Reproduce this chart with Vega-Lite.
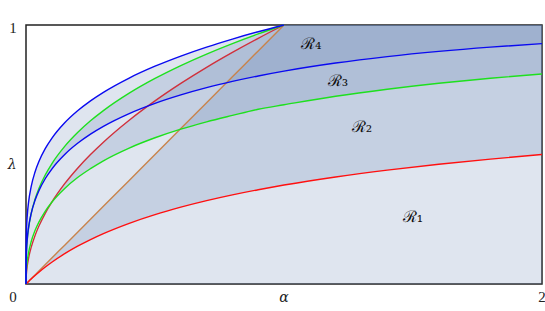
{
  "$schema": "https://vega.github.io/schema/vega-lite/v6.json",
  "width": 516,
  "height": 259,
  "autosize": "none",
  "padding": {"left": 26, "top": 25, "right": 3, "bottom": 27},
  "config": {"view": {"stroke": "#222222", "strokeWidth": 1.5}},
  "datasets": {
    "curves": [
      {"a": 0, "rl": 0, "ru": 0, "gl": 0, "gu": 0, "bl": 0, "bu": 0, "dg": 0, "rh": 0, "gh": 0, "bh": 0, "bt": 0},
      {"a": 0.0005, "rl": 0.0005, "ru": 0.0224, "gl": 0.0325, "gu": 0.0794, "bl": 0.0844, "bu": 0.1495, "dg": 0.0005, "rh": 0.0224, "gh": 0.0794, "bh": 0.1495, "bt": 0.0005},
      {"a": 0.002, "rl": 0.002, "ru": 0.0447, "gl": 0.06, "gu": 0.126, "bl": 0.1315, "bu": 0.2115, "dg": 0.002, "rh": 0.0447, "gh": 0.126, "bh": 0.2115, "bt": 0.002},
      {"a": 0.005, "rl": 0.0049, "ru": 0.0707, "gl": 0.09, "gu": 0.171, "bl": 0.1758, "bu": 0.2659, "dg": 0.005, "rh": 0.0707, "gh": 0.171, "bh": 0.2659, "bt": 0.005},
      {"a": 0.01, "rl": 0.0098, "ru": 0.1, "gl": 0.1213, "gu": 0.2154, "bl": 0.2189, "bu": 0.3162, "dg": 0.01, "rh": 0.1, "gh": 0.2154, "bh": 0.3162, "bt": 0.01},
      {"a": 0.02, "rl": 0.0192, "ru": 0.1414, "gl": 0.163, "gu": 0.2714, "bl": 0.2718, "bu": 0.3761, "dg": 0.02, "rh": 0.1414, "gh": 0.2714, "bh": 0.3761, "bt": 0.02},
      {"a": 0.035, "rl": 0.0327, "ru": 0.1871, "gl": 0.2063, "gu": 0.3271, "bl": 0.3231, "bu": 0.4325, "dg": 0.035, "rh": 0.1871, "gh": 0.3271, "bh": 0.4325, "bt": 0.035},
      {"a": 0.05, "rl": 0.0456, "ru": 0.2236, "gl": 0.239, "gu": 0.3684, "bl": 0.3603, "bu": 0.4729, "dg": 0.05, "rh": 0.2236, "gh": 0.3684, "bh": 0.4729, "bt": 0.05},
      {"a": 0.075, "rl": 0.0655, "ru": 0.2739, "gl": 0.2816, "gu": 0.4217, "bl": 0.4073, "bu": 0.5233, "dg": 0.075, "rh": 0.2739, "gh": 0.4217, "bh": 0.5233, "bt": 0.075},
      {"a": 0.1, "rl": 0.0839, "ru": 0.3162, "gl": 0.3157, "gu": 0.4642, "bl": 0.4438, "bu": 0.5623, "dg": 0.1, "rh": 0.3162, "gh": 0.4642, "bh": 0.5623, "bt": 0.1},
      {"a": 0.15, "rl": 0.117, "ru": 0.3873, "gl": 0.369, "gu": 0.5313, "bl": 0.5, "bu": 0.6223, "dg": 0.15, "rh": 0.3873, "gh": 0.5313, "bh": 0.6223, "bt": 0.15},
      {"a": 0.2, "rl": 0.1459, "ru": 0.4472, "gl": 0.411, "gu": 0.5848, "bl": 0.5432, "bu": 0.6687, "dg": 0.2, "rh": 0.4472, "gh": 0.5848, "bh": 0.6687, "bt": 0.2},
      {"a": 0.25, "rl": 0.1716, "ru": 0.5, "gl": 0.4453, "gu": 0.63, "bl": 0.5786, "bu": 0.7071, "dg": 0.25, "rh": 0.5, "gh": 0.63, "bh": 0.7071, "bt": 0.25},
      {"a": 0.3, "rl": 0.1946, "ru": 0.5477, "gl": 0.4758, "gu": 0.6694, "bl": 0.6087, "bu": 0.7401, "dg": 0.3, "rh": 0.5477, "gh": 0.6694, "bh": 0.7401, "bt": 0.3},
      {"a": 0.4, "rl": 0.2344, "ru": 0.6325, "gl": 0.525, "gu": 0.7368, "bl": 0.658, "bu": 0.7953, "dg": 0.4, "rh": 0.6325, "gh": 0.7368, "bh": 0.7953, "bt": 0.4},
      {"a": 0.5, "rl": 0.268, "ru": 0.7071, "gl": 0.5647, "gu": 0.7937, "bl": 0.6975, "bu": 0.8409, "dg": 0.5, "rh": 0.7071, "gh": 0.7937, "bh": 0.8409, "bt": 0.5},
      {"a": 0.6, "rl": 0.2967, "ru": 0.7746, "gl": 0.598, "gu": 0.8434, "bl": 0.7302, "bu": 0.8801, "dg": 0.6, "rh": 0.7746, "gh": 0.8434, "bh": 0.8801, "bt": 0.6},
      {"a": 0.7, "rl": 0.3219, "ru": 0.8367, "gl": 0.6262, "gu": 0.8879, "bl": 0.7582, "bu": 0.9147, "dg": 0.7, "rh": 0.8367, "gh": 0.8879, "bh": 0.9147, "bt": 0.7},
      {"a": 0.8, "rl": 0.3441, "ru": 0.8944, "gl": 0.651, "gu": 0.9283, "bl": 0.7822, "bu": 0.9457, "dg": 0.8, "rh": 0.8944, "gh": 0.9283, "bh": 0.9457, "bt": 0.8},
      {"a": 0.9, "rl": 0.364, "ru": 0.9487, "gl": 0.6749, "gu": 0.9655, "bl": 0.8033, "bu": 0.974, "dg": 0.9, "rh": 0.9487, "gh": 0.9655, "bh": 0.974, "bt": 0.9},
      {"a": 1.0, "rl": 0.382, "ru": 1, "gl": 0.692, "gu": 1, "bl": 0.8219, "bu": 1, "dg": 1, "rh": 1, "gh": 1, "bh": 1, "bt": 1},
      {"a": 1.2, "rl": 0.4132, "ru": null, "gl": 0.725, "gu": null, "bl": 0.8531, "bu": null, "dg": null, "rh": 1, "gh": 1, "bh": 1, "bt": 1},
      {"a": 1.4, "rl": 0.4396, "ru": null, "gl": 0.752, "gu": null, "bl": 0.878, "bu": null, "dg": null, "rh": 1, "gh": 1, "bh": 1, "bt": 1},
      {"a": 1.6, "rl": 0.4624, "ru": null, "gl": 0.775, "gu": null, "bl": 0.8982, "bu": null, "dg": null, "rh": 1, "gh": 1, "bh": 1, "bt": 1},
      {"a": 1.8, "rl": 0.4823, "ru": null, "gl": 0.7943, "gu": null, "bl": 0.9146, "bu": null, "dg": null, "rh": 1, "gh": 1, "bh": 1, "bt": 1},
      {"a": 2.0, "rl": 0.5, "ru": null, "gl": 0.811, "gu": null, "bl": 0.928, "bu": null, "dg": null, "rh": 1, "gh": 1, "bh": 1, "bt": 1}
    ],
    "labels": [
      {"a": -0.05, "l": -0.05, "t": "0"},
      {"a": -0.05, "l": 0.99, "t": "1"},
      {"a": 2.0, "l": -0.05, "t": "2"}
    ],
    "symbols": [
      {"a": 1.0, "l": -0.055, "t": "α"},
      {"a": -0.054, "l": 0.46, "t": "λ"}
    ],
    "regions": [
      {"a": 1.105, "l": 0.927, "t": "ℛ₄"},
      {"a": 1.209, "l": 0.784, "t": "ℛ₃"},
      {"a": 1.302, "l": 0.606, "t": "ℛ₂"},
      {"a": 1.5, "l": 0.259, "t": "ℛ₁"}
    ]
  },
  "layer": [
    {
      "data": {"name": "curves"},
      "mark": {"type": "area", "color": "#5f7daf", "opacity": 0.2, "interpolate": "linear"},
      "encoding": {
        "x": {"field": "a", "type": "quantitative", "scale": {"domain": [0, 2]}, "axis": null},
        "y": {"field": "bt", "type": "quantitative", "scale": {"domain": [0, 1]}, "axis": null, "stack": null}
      }
    },
    {
      "data": {"name": "curves"},
      "mark": {"type": "area", "color": "#5f7daf", "opacity": 0.2, "interpolate": "monotone"},
      "encoding": {
        "x": {"field": "a", "type": "quantitative", "scale": {"domain": [0, 2]}, "axis": null},
        "y": {"field": "rl", "type": "quantitative", "scale": {"domain": [0, 1]}, "axis": null},
        "y2": {"field": "rh"}
      }
    },
    {
      "data": {"name": "curves"},
      "mark": {"type": "area", "color": "#5f7daf", "opacity": 0.2, "interpolate": "monotone"},
      "encoding": {
        "x": {"field": "a", "type": "quantitative", "scale": {"domain": [0, 2]}, "axis": null},
        "y": {"field": "gl", "type": "quantitative", "scale": {"domain": [0, 1]}, "axis": null},
        "y2": {"field": "gh"}
      }
    },
    {
      "data": {"name": "curves"},
      "mark": {"type": "area", "color": "#5f7daf", "opacity": 0.2, "interpolate": "monotone"},
      "encoding": {
        "x": {"field": "a", "type": "quantitative", "scale": {"domain": [0, 2]}, "axis": null},
        "y": {"field": "bl", "type": "quantitative", "scale": {"domain": [0, 1]}, "axis": null},
        "y2": {"field": "bh"}
      }
    },
    {
      "data": {"name": "curves"},
      "transform": [{"fold": ["dg", "rl", "ru", "gl", "gu", "bl", "bu"], "as": ["c", "l"]}],
      "mark": {"type": "line", "strokeWidth": 1.4, "interpolate": "monotone"},
      "encoding": {
        "x": {"field": "a", "type": "quantitative", "scale": {"domain": [0, 2]}, "axis": null},
        "y": {"field": "l", "type": "quantitative", "scale": {"domain": [0, 1]}, "axis": null},
        "color": {
          "field": "c",
          "type": "nominal",
          "scale": {
            "domain": ["dg", "rl", "ru", "gl", "gu", "bl", "bu"],
            "range": ["#c8844c", "#ff1010", "#d0303c", "#1ee01e", "#1ee01e", "#0a0af0", "#0a0af0"]
          },
          "legend": null
        }
      }
    },
    {
      "data": {"name": "labels"},
      "mark": {"type": "text", "font": "Liberation Serif", "fontSize": 15, "color": "#222222"},
      "encoding": {
        "x": {"field": "a", "type": "quantitative", "scale": {"domain": [0, 2]}, "axis": null},
        "y": {"field": "l", "type": "quantitative", "scale": {"domain": [0, 1]}, "axis": null},
        "text": {"field": "t"}
      }
    },
    {
      "data": {"name": "symbols"},
      "mark": {"type": "text", "font": "DejaVu Serif", "fontStyle": "italic", "fontSize": 14, "color": "#222222"},
      "encoding": {
        "x": {"field": "a", "type": "quantitative", "scale": {"domain": [0, 2]}, "axis": null},
        "y": {"field": "l", "type": "quantitative", "scale": {"domain": [0, 1]}, "axis": null},
        "text": {"field": "t"}
      }
    },
    {
      "data": {"name": "regions"},
      "mark": {"type": "text", "font": "DejaVu Serif", "fontSize": 16, "color": "#111111"},
      "encoding": {
        "x": {"field": "a", "type": "quantitative", "scale": {"domain": [0, 2]}, "axis": null},
        "y": {"field": "l", "type": "quantitative", "scale": {"domain": [0, 1]}, "axis": null},
        "text": {"field": "t"}
      }
    }
  ]
}
